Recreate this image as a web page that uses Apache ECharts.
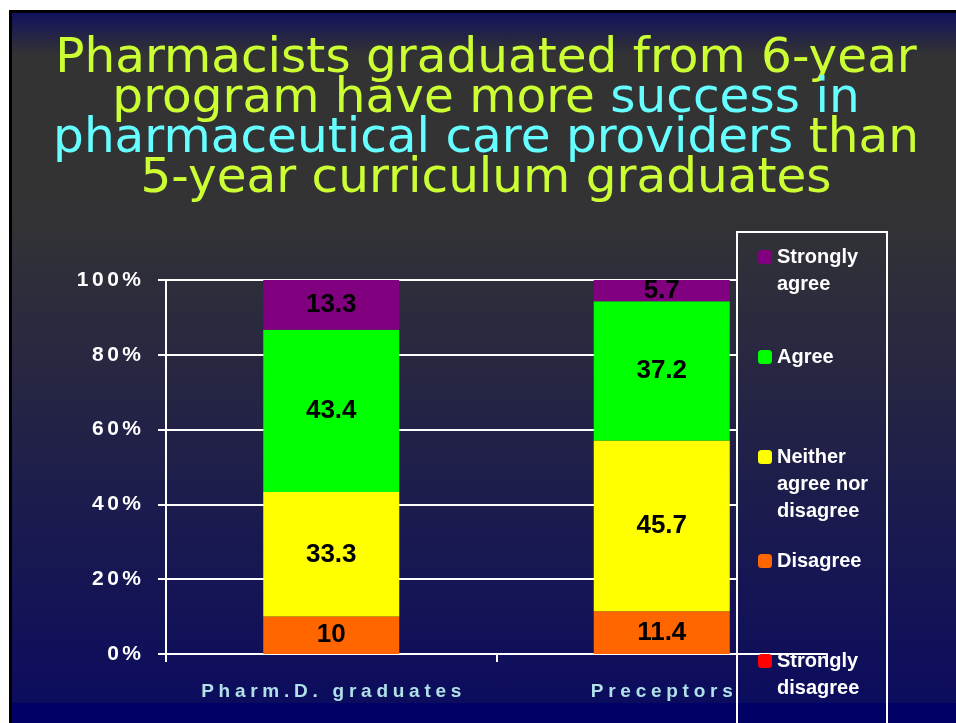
<!DOCTYPE html>
<html>
<head>
<meta charset="utf-8">
<script src="https://cdn.jsdelivr.net/npm/echarts@6/dist/echarts.min.js"></script>
<style>
  html, body { margin: 0; padding: 0; background: #fff; }
  #bg {
    position: absolute; left: 9px; top: 10px; width: 944px; height: 710px;
    border-top: 3px solid #000; border-left: 3px solid #000;
    background: linear-gradient(to bottom, #12125e 0px, #333333 42px, #333335 200px, #0c0c5e 690px, #000066 690px, #000066 710px);
  }
  #chart { position: absolute; left: 0; top: 0; width: 956px; height: 723px; }
</style>
</head>
<body>
<div id="bg"></div>
<div id="chart"></div>
<script>
// data (percent of respondents)
const categories = ["Pharm.D. graduates", "Preceptors"];
const stronglyDisagree = [0, 0];
const disagree = [10, 11.4];
const neither = [33.3, 45.7];
const agree = [43.4, 37.2];
const stronglyAgree = [13.3, 5.7];

const legendText = {
  "Strongly agree": "Strongly\nagree",
  "Agree": "Agree",
  "Neither agree nor disagree": "Neither\nagree nor\ndisagree",
  "Disagree": "Disagree",
  "Strongly disagree": "Strongly\ndisagree"
};
// icon centre y of each legend entry
const legendRows = [
  ["Strongly agree", 257],
  ["Agree", 357],
  ["Neither agree nor disagree", 457],
  ["Disagree", 561],
  ["Strongly disagree", 661]
];

const FONT = "Liberation Sans";
const LH = 27;

// spaced-out lettering like the slide
function spaced(s, sp) {
  return s.split("").join(sp);
}

const chart = echarts.init(document.getElementById("chart"));

// legend text is centred on the icon, so pad with empty lines on top
// to put the first line level with the square
const legends = legendRows.map(function (r) {
  const n = legendText[r[0]].split("\n").length;
  const H = (2 * n - 1) * LH;
  return {
    data: [r[0]],
    orient: "vertical",
    left: 758,
    top: r[1] - H / 2,
    padding: 0,
    itemWidth: 14,
    itemHeight: 14,
    itemGap: 6,
    selectedMode: false,
    formatter: function (name) {
      const lines = legendText[name].split("\n");
      return new Array(lines.length).join("\n") + lines.join("\n");
    },
    textStyle: {
      color: "#fff",
      fontFamily: FONT,
      fontWeight: "bold",
      fontSize: 20,
      lineHeight: LH
    }
  };
});

function barSeries(name, data, color, showLabel) {
  return {
    name: name,
    type: "bar",
    stack: "total",
    xAxisIndex: 0,
    yAxisIndex: 0,
    barWidth: 136,
    data: data,
    itemStyle: { color: color },
    label: {
      show: showLabel,
      position: "inside",
      color: "#000",
      fontFamily: FONT,
      fontWeight: "bold",
      fontSize: 26
    }
  };
}

const option = {
  backgroundColor: "transparent",
  animation: false,
  title: {
    left: 486,
    top: 39,
    padding: 0,
    textAlign: "center",
    text: "{y|Pharmacists graduated from 6-year}\n{y|program have more }{c|success in}\n{c|pharmaceutical care providers}{y| than}\n{y|5-year curriculum graduates}",
    textStyle: {
      fontWeight: "normal",
      rich: {
        y: { color: "#ccff33", fontFamily: "DejaVu Sans", fontWeight: "normal", fontSize: 48.5, lineHeight: 40 },
        c: { color: "#66ffff", fontFamily: "DejaVu Sans", fontWeight: "normal", fontSize: 48.5, lineHeight: 40 }
      }
    }
  },
  legend: legends,
  graphic: [
    {
      type: "rect",
      shape: { x: 737, y: 232, width: 150, height: 600 },
      style: { fill: "none", stroke: "#fff", lineWidth: 2 },
      z: 10
    }
  ],
  grid: [
    { left: 166, right: 129, top: 280, bottom: 69 },
    { left: 166, right: 219, top: 280, bottom: 69 }
  ],
  xAxis: [
    {
      type: "category",
      gridIndex: 0,
      data: categories,
      axisLine: { lineStyle: { color: "#fff", width: 2 } },
      axisTick: { show: true, length: 8, lineStyle: { color: "#fff", width: 2 } },
      axisLabel: {
        interval: 0,
        margin: 28,
        color: "#b0e0e8",
        fontFamily: FONT,
        fontWeight: "bold",
        fontSize: 19,
        formatter: function (v) { return spaced(v, "\u2005"); }
      }
    },
    { type: "category", gridIndex: 1, data: categories, show: false }
  ],
  yAxis: [
    {
      type: "value",
      gridIndex: 0,
      min: 0,
      max: 100,
      interval: 20,
      axisLine: { show: true, lineStyle: { color: "#fff", width: 2 } },
      axisTick: { show: true, length: 8, lineStyle: { color: "#fff", width: 2 } },
      splitLine: { show: false },
      axisLabel: {
        margin: 25,
        color: "#fff",
        fontFamily: FONT,
        fontWeight: "bold",
        fontSize: 21,
        formatter: function (v) { return spaced(v + "%", "\u2006"); }
      }
    },
    {
      type: "value",
      gridIndex: 1,
      min: 0,
      max: 100,
      interval: 20,
      axisLine: { show: false },
      axisTick: { show: false },
      axisLabel: { show: false },
      splitLine: { show: true, lineStyle: { color: "#fff", width: 2 } }
    }
  ],
  series: [
    barSeries("Strongly disagree", stronglyDisagree, "#ff0000", false),
    barSeries("Disagree", disagree, "#ff6600", true),
    barSeries("Neither agree nor disagree", neither, "#ffff00", true),
    barSeries("Agree", agree, "#00ff00", true),
    barSeries("Strongly agree", stronglyAgree, "#800080", true)
  ]
};

chart.setOption(option);
</script>
</body>
</html>
